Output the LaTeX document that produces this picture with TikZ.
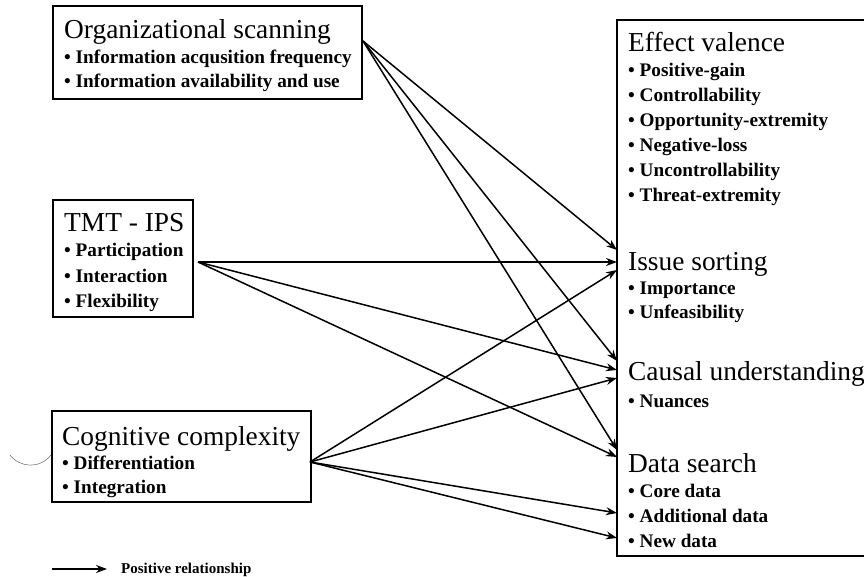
\documentclass[tikz,border=0pt]{standalone}
\usepackage{fontspec}
\setmainfont{Liberation Serif}
\usetikzlibrary{arrows.meta}
\begin{document}
\begin{tikzpicture}[x=1pt,y=-1pt,
  box/.style={draw, line width=1.4pt, inner sep=0pt},
  head/.style={anchor=base west, inner sep=0pt, font=\fontsize{27.4}{30}\selectfont},
  item/.style={anchor=base west, inner sep=0pt, font=\fontsize{19.2}{22}\selectfont\bfseries},
  link/.style={line width=1.5pt, -{Stealth[length=11pt,width=8pt]}},
  smudge/.style={line width=0.5pt, draw=black!60}]
\useasboundingbox (0,0) rectangle (864,577);
% boxes
\node[box, minimum width=309pt, minimum height=93pt] (org) at (207.5,52.5) {};
\node[box, minimum width=140pt, minimum height=117pt] (tmt) at (123,258.5) {};
\node[box, minimum width=259pt, minimum height=91pt] (cog) at (181.5,456.5) {};
\node[box, minimum width=249pt, minimum height=536pt] (out) at (741.5,288) {};
% left texts
\node[head] (orgh) at (64,39) {Organizational scanning};
\node[item] (org1) at (64,64) {• Information acqusition frequency};
\node[item] (org2) at (64,88) {• Information availability and use};
\node[head] (tmth) at (64,232) {TMT - IPS};
\node[item] (tmt1) at (64,257) {• Participation};
\node[item] (tmt2) at (64,282) {• Interaction};
\node[item] (tmt3) at (64,307) {• Flexibility};
\node[head] (cogh) at (62,445) {Cognitive complexity};
\node[item] (cog1) at (62,469) {• Differentiation};
\node[item] (cog2) at (62,493) {• Integration};
% right texts
\node[head] (evh) at (628,52) {Effect valence};
\node[item] (ev1) at (628,77) {• Positive-gain};
\node[item] (ev2) at (628,102) {• Controllability};
\node[item] (ev3) at (628,127) {• Opportunity-extremity};
\node[item] (ev4) at (628,152) {• Negative-loss};
\node[item] (ev5) at (628,177) {• Uncontrollability};
\node[item] (ev6) at (628,202) {• Threat-extremity};
\node[head] (ish) at (628,270) {Issue sorting};
\node[item] (is1t) at (628,294) {• Importance};
\node[item] (is2t) at (628,318) {• Unfeasibility};
\node[head] (cuh) at (628,380) {Causal understanding};
\node[item] (cu1t) at (628,407) {• Nuances};
\node[head] (dsh) at (628,472) {Data search};
\node[item] (ds1t) at (628,497) {• Core data};
\node[item] (ds2t) at (628,522) {• Additional data};
\node[item] (ds3t) at (628,547) {• New data};
% connector ends
\coordinate (orgout) at (363,41);
\coordinate (tmtout) at (198,262);
\coordinate (cogout) at (310,462);
\coordinate (is1) at (617,250);
\coordinate (is2) at (617,262);
\coordinate (is3) at (617,270);
\coordinate (cu1) at (617,361);
\coordinate (cu2) at (617,370);
\coordinate (cu3) at (617,378);
\coordinate (ds1) at (617,450);
\coordinate (ds2) at (617,457);
\coordinate (ds3) at (617,513);
\coordinate (ds4) at (617,538);
% connectors
\draw[link] (orgout) -- (is1);
\draw[link] (orgout) -- (cu1);
\draw[link] (orgout) -- (ds1);
\draw[link] (tmtout) -- (is2);
\draw[link] (tmtout) -- (cu2);
\draw[link] (tmtout) -- (ds2);
\draw[link] (cogout) -- (is3);
\draw[link] (cogout) -- (cu3);
\draw[link] (cogout) -- (ds3);
\draw[link] (cogout) -- (ds4);
% legend
\coordinate (la) at (52,569);
\coordinate (lb) at (107,569);
\draw[link] (la) -- (lb);
\node[anchor=base west, inner sep=0pt, font=\fontsize{15}{18}\selectfont\bfseries] (leg) at (121,573) {Positive relationship};
% scan mark
\draw[smudge] (10,455) .. controls (20,468) and (40,469) .. (51,455);
\end{tikzpicture}
\end{document}
